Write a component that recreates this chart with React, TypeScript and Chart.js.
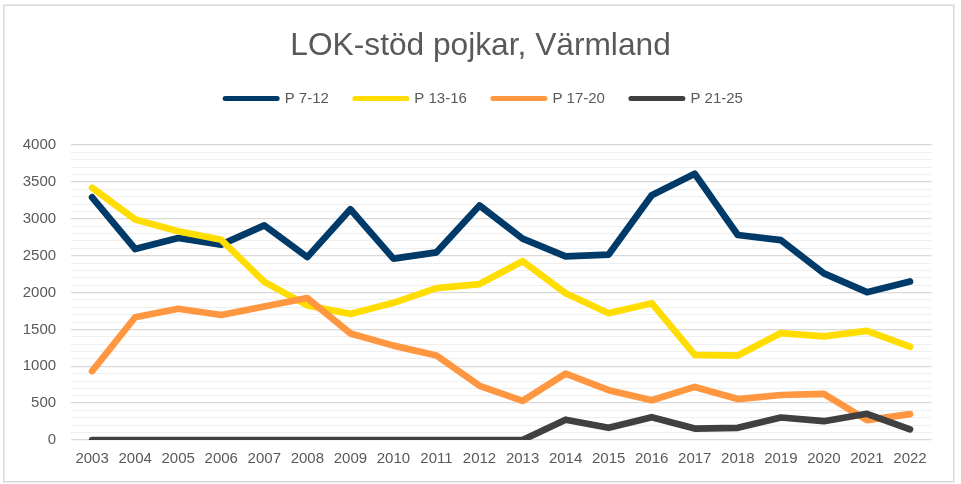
import React, { useEffect, useRef } from "react";
import { Chart, registerables } from "chart.js";

Chart.register(...registerables);

const TITLE = "LOK-stöd pojkar, Värmland";
const years = ["2003","2004","2005","2006","2007","2008","2009","2010","2011","2012","2013","2014","2015","2016","2017","2018","2019","2020","2021","2022"];
const seriesNames = ["P 7-12", "P 13-16", "P 17-20", "P 21-25"];
const p7_12 = [3290, 2590, 2740, 2650, 2910, 2480, 3130, 2460, 2545, 3180, 2730, 2490, 2515, 3320, 3610, 2780, 2710, 2260, 2005, 2150];
const p13_16 = [3420, 2990, 2830, 2715, 2145, 1825, 1710, 1860, 2060, 2115, 2425, 1990, 1720, 1855, 1155, 1145, 1450, 1405, 1480, 1265];
const p17_20 = [935, 1665, 1780, 1695, 1810, 1925, 1445, 1280, 1145, 735, 530, 900, 675, 540, 720, 555, 610, 625, 270, 350];
const p21_25 = [0, 0, 0, 0, 0, 0, 0, 0, 0, 0, 0, 275, 165, 310, 155, 165, 305, 255, 355, 145];
const colors = ["#003A68", "#FFDD00", "#FF9640", "#404040"];
const yMin = 0;
const yMax = 4000;
const yMinorStep = 100;
const yMajorStep = 500;

const FONT = "'Liberation Sans', Arial, sans-serif";
const TEXT = "#595959";

const borderPlugin = {
  id: "outerBorder",
  afterLayout(chart: any) {
    if (chart.legend) {
      chart.legend.left += 7;
      chart.legend.right += 7;
    }
    if (chart.titleBlock) {
      chart.titleBlock.left += 3.5;
      chart.titleBlock.right += 3.5;
    }
  },
  beforeDraw(chart: any) {
    const ctx = chart.ctx;
    ctx.save();
    ctx.fillStyle = "#ffffff";
    ctx.fillRect(0, 0, chart.width, chart.height);
    ctx.strokeStyle = "#d9d9d9";
    ctx.lineWidth = 1.5;
    ctx.strokeRect(3.75, 5.25, 950, 476.5);
    ctx.restore();
  },
};

export default function App() {
  const ref = useRef<HTMLCanvasElement>(null);
  useEffect(() => {
    if (!ref.current) return;
    const all = [p7_12, p13_16, p17_20, p21_25];
    const chart = new Chart(ref.current, {
      type: "line",
      data: {
        labels: years,
        datasets: all.map((d, i) => ({
          label: seriesNames[i],
          data: d,
          borderColor: colors[i],
          backgroundColor: colors[i],
          borderWidth: 6.7,
          borderCapStyle: "round",
          borderJoinStyle: "round",
          pointRadius: 0,
          pointHoverRadius: 0,
          pointStyle: "line",
          tension: 0,
          order: 4 - i,
        })),
      },
      options: {
        responsive: false,
        animation: false,
        devicePixelRatio: 1,
        layout: { padding: { left: 22.6, right: 29.5, top: 0, bottom: 6 } },
        plugins: {
          title: {
            display: true,
            text: TITLE,
            color: TEXT,
            font: { family: FONT, size: 31.7, weight: "normal", lineHeight: 1.2 },
            padding: { top: 27, bottom: 0 },
          },
          subtitle: {
            display: true,
            text: "",
            weight: 500,
            font: { family: FONT, size: 10, lineHeight: 1 },
            padding: { top: 0, bottom: 19 },
          },
          legend: {
            display: true,
            position: "top",
            labels: {
              usePointStyle: true,
              pointStyleWidth: 52,
              padding: 26,
              color: TEXT,
              font: { family: FONT, size: 15 },
              sort: (a: any, b: any) => a.datasetIndex - b.datasetIndex,
              generateLabels: (c: any) =>
                (Chart.defaults.plugins.legend.labels.generateLabels as any)(c).map((l: any) => ({
                  ...l,
                  pointStyle: "line",
                  lineWidth: 5,
                  lineCap: "round",
                })),
            },
          },
          tooltip: { enabled: false },
        },
        scales: {
          x: {
            type: "category",
            offset: true,
            grid: { display: false, drawTicks: false },
            border: { display: false },
            ticks: {
              color: TEXT,
              font: { family: FONT, size: 15 },
              padding: 10,
              maxRotation: 0,
              autoSkip: false,
            },
          },
          y: {
            min: yMin,
            max: yMax,
            afterFit: (scale: any) => {
              scale.width = 48;
            },
            grid: {
              drawTicks: false,
              color: (ctx: any) => (ctx.tick && ctx.tick.value % yMajorStep === 0 ? "#d9d9d9" : "#efefef"),
              lineWidth: (ctx: any) => (ctx.tick && ctx.tick.value % yMajorStep === 0 ? 1.3 : 1),
            },
            border: { display: false },
            ticks: {
              stepSize: yMinorStep,
              autoSkip: false,
              padding: 14.5,
              color: TEXT,
              font: { family: FONT, size: 15 },
              callback: (v: any) => (Number(v) % yMajorStep === 0 ? String(v) : ""),
            },
          },
        },
      },
      plugins: [borderPlugin],
    } as any);
    return () => chart.destroy();
  }, []);
  return (
    <div style={{ position: "absolute", left: 0, top: 0, width: 961, height: 484 }}>
      <canvas ref={ref} width={961} height={484} style={{ display: "block" }} />
    </div>
  );
}
